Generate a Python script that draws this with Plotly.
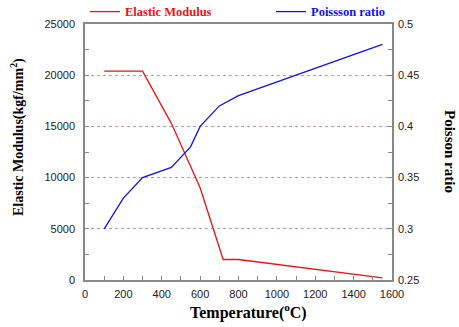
import plotly.graph_objects as go

temp_e = [100, 300, 450, 600, 720, 800, 1550]
modulus = [20400, 20400, 15300, 9000, 2000, 2000, 200]
temp_p = [100, 200, 300, 450, 550, 600, 700, 800, 1550]
poisson = [0.30, 0.33, 0.35, 0.36, 0.38, 0.40, 0.42, 0.43, 0.48]

serif = "Liberation Serif, Times New Roman, serif"
fig = go.Figure()
fig.add_trace(go.Scatter(x=temp_e, y=modulus, mode="lines",
                         line=dict(color="#ee1111", width=1.3),
                         name="<b><span style='color:#ee1111'>Elastic Modulus</span></b>"))
fig.add_trace(go.Scatter(x=temp_p, y=poisson, mode="lines", yaxis="y2", legend="legend2",
                         line=dict(color="#1111ee", width=1.3),
                         name="<b><span style='color:#1111ee'>Poissson ratio</span></b>"))

tickfont = dict(family="Liberation Sans, Arial", size=11, color="#222")
axcol = "#888888"
legfont = dict(family=serif, size=12.5, color="#000")
fig.update_layout(
    width=459, height=327,
    margin=dict(l=85, r=67, t=24, b=47, autoexpand=False),
    paper_bgcolor="white", plot_bgcolor="white",
    showlegend=True,
    legend=dict(orientation="h", x=0, y=1.047, xanchor="left", yanchor="middle",
                font=legfont, bgcolor="rgba(0,0,0,0)"),
    legend2=dict(orientation="h", x=(271 - 85) / 307, y=1.047, xanchor="left",
                 yanchor="middle", font=legfont, bgcolor="rgba(0,0,0,0)"),
    xaxis=dict(range=[0, 1600], dtick=200, tick0=0, showline=True, linecolor=axcol,
               linewidth=1.5, mirror=True, ticks="inside", ticklen=4, tickcolor=axcol,
               minor=dict(dtick=100, ticks="inside", ticklen=4, tickcolor=axcol),
               showgrid=False, zeroline=False, tickfont=tickfont, ticklabelstandoff=3),
    yaxis=dict(range=[0, 25000], dtick=5000, tick0=0, tickformat="d", showline=True,
               linecolor=axcol, linewidth=1.5, ticks="inside", ticklen=4, tickcolor=axcol,
               minor=dict(dtick=2500, ticks="inside", ticklen=4, tickcolor=axcol),
               showgrid=True, gridcolor="#9a9aff", griddash="dot", gridwidth=1,
               zeroline=False, tickfont=tickfont, ticklabelstandoff=6),
    yaxis2=dict(range=[0.25, 0.5], dtick=0.05, tick0=0.25, overlaying="y", side="right",
                showline=True, linecolor=axcol, linewidth=1.5, ticks="inside", ticklen=4,
                tickcolor=axcol,
                minor=dict(dtick=0.025, ticks="inside", ticklen=4, tickcolor=axcol),
                showgrid=False, zeroline=False, tickfont=tickfont, ticklabelstandoff=2),
    annotations=[
        dict(text="<b>Poisson ratio</b>", textangle=90, xref="paper", yref="paper",
             x=(450 - 85) / 307, y=(280 - 151) / 256, xanchor="center", yanchor="middle",
             showarrow=False, font=dict(family=serif, size=15, color="#000")),
        dict(text="<b>Elastic Modulus(kgf/mm<sup>2</sup>)</b>", textangle=-90, xref="paper",
             yref="paper", x=(17 - 85) / 307, y=(280 - 137) / 256, xanchor="center",
             yanchor="middle", showarrow=False, font=dict(family=serif, size=14, color="#000")),
        dict(text="<b>Temperature(<sup>o</sup>C)</b>", xref="paper", yref="paper",
             x=(248 - 85) / 307, y=(280 - 311) / 256, xanchor="center", yanchor="middle",
             showarrow=False, font=dict(family=serif, size=16, color="#000")),
    ],
)
fig.write_html("out.html")
